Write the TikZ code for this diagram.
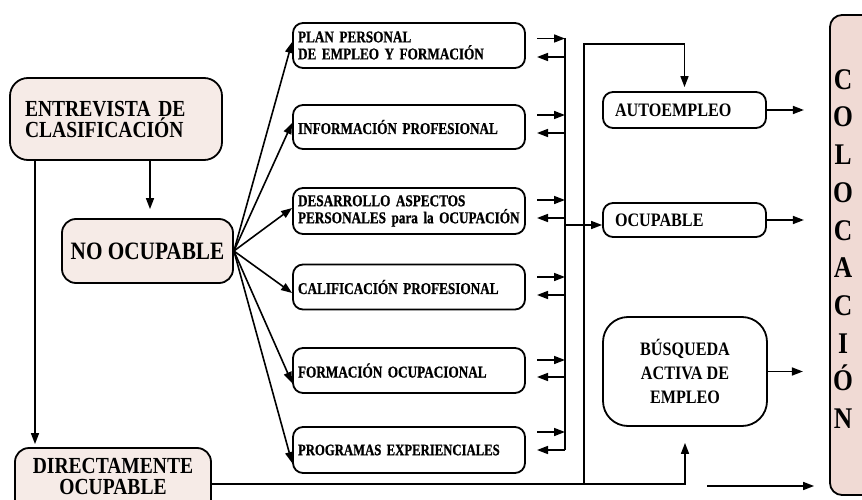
\documentclass[tikz,border=0pt]{standalone}
\usepackage{fontspec}
\setmainfont{Liberation Serif}[FakeStretch=0.85]
\newfontfamily\midfont{Liberation Serif}[FakeStretch=0.8, FakeBold=0.8]
\usetikzlibrary{arrows.meta,calc}
\definecolor{pinkA}{HTML}{F6EBE7}
\definecolor{pinkB}{HTML}{F0DAD4}
\newcommand{\midsize}[1]{\midfont\bfseries\fontsize{#1}{17}\selectfont\spaceskip=0.16em\relax}
\begin{document}
\begin{tikzpicture}[x=1pt,y=-1pt,
  every node/.style={font=\bfseries},
  box/.style={draw, line width=1.8pt, rounded corners=10pt, inner sep=0pt},
  pbox/.style={box, fill=pinkA},
  midbox/.style={box, minimum width=232pt, minimum height=45pt, text width=222pt, inner xsep=5pt, align=left, font=\midsize{16.5}},
  rbox/.style={box, minimum width=163pt, text width=139pt, inner xsep=12pt, align=left, font=\bfseries\fontsize{19}{22}\selectfont},
  ln/.style={line width=1.6pt},
  arr/.style={ln, -{Triangle[length=11pt,width=8pt]}},
]
\useasboundingbox (0,0) rectangle (862,500);

% left column
\node[pbox, rounded corners=18pt, minimum width=212pt, minimum height=82pt, text width=182pt, inner xsep=15pt, align=left, font=\bfseries\fontsize{23}{21}\selectfont] (ent) at (116,119) {ENTREVISTA DE\\CLASIFICACIÓN};
\node[pbox, rounded corners=14pt, minimum width=171pt, minimum height=64pt, font=\bfseries\fontsize{25}{28}\selectfont] (noo) at (147.5,251) {NO OCUPABLE};
\node[pbox, rounded corners=14pt, minimum width=196pt, minimum height=82pt] (dirbox) at (113,489) {};
\node[font=\bfseries\fontsize{23}{21}\selectfont, align=center, inner sep=0pt] (dirtxt) at (113,476.5) {DIRECTAMENTE\\OCUPABLE};

% middle column
\node[midbox] (b1) at (409,45.5) {\mbox{PLAN PERSONAL}\\\mbox{DE EMPLEO Y FORMACIÓN}};
\node[midbox, minimum height=44pt] (b2) at (409,127) {\mbox{INFORMACIÓN PROFESIONAL}};
\node[midbox, minimum height=46pt] (b3) at (409,211) {\mbox{DESARROLLO ASPECTOS}\\\mbox{PERSONALES para la OCUPACIÓN}};
\node[midbox] (b4) at (409,287) {\mbox{CALIFICACIÓN PROFESIONAL}};
\node[midbox] (b5) at (409,370.5) {\mbox{FORMACIÓN OCUPACIONAL}};
\node[midbox, minimum height=46pt, font=\midsize{15.9}] (b6) at (409,450) {\mbox{PROGRAMAS EXPERIENCIALES}};

% right column
\node[rbox, minimum height=36pt] (auto) at (684.5,110) {AUTOEMPLEO};
\node[rbox, minimum height=34pt] (ocu) at (684.5,220) {OCUPABLE};
\node[box, rounded corners=25pt, minimum width=164pt, minimum height=109pt, align=center, font=\bfseries\fontsize{19}{24}\selectfont] (bus) at (685,371.5) {BÚSQUEDA\\ACTIVA DE\\EMPLEO};

% colocacion
\node[box, fill=pinkB, rounded corners=12pt, minimum width=60pt, minimum height=480pt] (colbox) at (860,255) {};
\node[font=\bfseries\fontsize{30}{37.7}\selectfont, align=center, inner sep=0pt] (col) at (843,249) {C\\O\\L\\O\\C\\A\\C\\I\\Ó\\N};

% connectors
\coordinate (cA) at (150,0);
\coordinate (cB) at (35,0);
\draw[arr, shorten >=9pt] (ent.south -| cA) -- (noo.north -| cA);
\draw[arr, shorten >=3pt] (ent.south -| cB) -- (dirbox.north -| cB);

\foreach \b/\dy in {b1/-3.5, b2/-4, b3/-3, b4/6, b5/12.5, b6/13}
  \draw[arr] (noo.east) -- ($(\b.west)+(0,\dy)$);

\foreach \ya/\yb in {38.5/57, 115/133, 200/218, 277/295, 360/377, 432/450} {
  \draw[arr] (537,\ya) -- (565,\ya);
  \draw[arr] (565,\yb) -- (537,\yb);
}
\coordinate (ctop) at (565,38);
\coordinate (cbot) at (565,450);
\draw[ln] (ctop) -- (cbot);
\coordinate (cocu) at (565,225);
\draw[arr] (cocu) -- (cocu -| ocu.west);

\coordinate (j1) at (584,484);
\coordinate (jt) at (584,44);
\draw[arr, shorten >=4pt] (j1) -- (jt) -- (jt -| auto.north) -- (auto.north);
\draw[arr, shorten >=16pt] (dirbox.east |- j1) -- (j1 -| bus.south) -- (bus.south);

\draw[arr] (auto.east) -- +(37,0);
\draw[arr] (ocu.east) -- +(37,0);
\draw[arr] (bus.east) -- +(35,0);
\coordinate (fa) at (707,486);
\draw[arr, shorten >=15pt] (fa) -- (fa -| colbox.west);
\end{tikzpicture}
\end{document}
